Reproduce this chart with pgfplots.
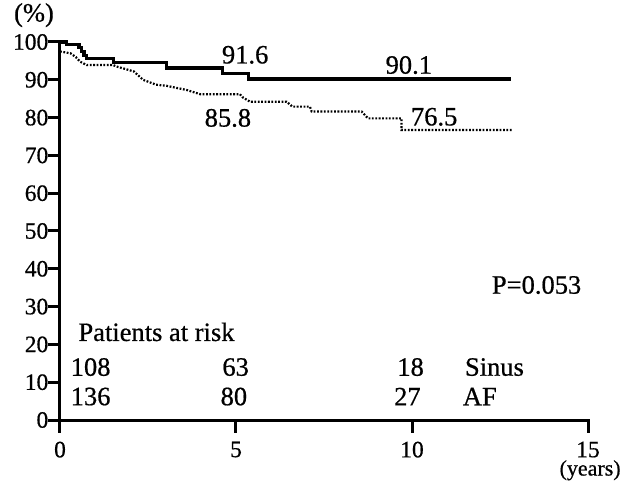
\documentclass[border=0pt]{standalone}
\usepackage{pgfplots}
\pgfplotsset{compat=1.18}
\usepackage{fontspec}
\setmainfont[FakeBold=0.6]{Liberation Serif}
\begin{document}
\begin{tikzpicture}
\begin{axis}[
  name=ax,
  scale only axis,
  width=528pt, height=378pt,
  xmin=0, xmax=15, ymin=0, ymax=100,
  axis lines=left,
  axis line style={-, line width=3pt, line cap=rect},
  xtick={0,5,10,15}, ytick={0,10,...,100},
  tick align=outside,
  major tick length=12.5pt,
  tick style={line width=3pt, black},
  /pgf/number format/assume math mode=true,
  tick label style={font=\fontsize{23.5}{28}\selectfont},
  yticklabel style={inner sep=0pt, xshift=1pt},
  xticklabel style={inner sep=0pt, yshift=-9pt},
  clip=false,
]
\addplot[black, line width=3.2pt, line join=miter] coordinates {
(0,100) (0.19,100) (0.19,99.4) (0.54,99.4) (0.54,98.5) (0.62,98.5) (0.62,97.5)
(0.68,97.5) (0.68,96.5) (0.76,96.5) (0.76,95.6) (1.51,95.6) (1.51,94.5)
(3.03,94.5) (3.03,93.1) (4.61,93.1) (4.61,91.7) (5.35,91.7) (5.35,90.2) (12.8,90.2)
};
\addplot[black, line width=2.2pt, dash pattern=on 1.8pt off 1.6pt] coordinates {
(0,97.5) (0.3,97.0) (0.45,96.0) (0.57,94.8) (0.76,93.9) (1.51,93.9) (1.61,93.5)
(1.8,93.0) (2.1,92.2) (2.36,90.0) (2.73,88.7) (3.03,88.4) (3.6,87.3) (3.98,86.2)
(5.11,86.2) (5.2,85.3) (5.4,84.2) (6.44,84.2) (6.6,82.9) (7.1,82.9) (7.15,81.6)
(8.57,81.6) (8.75,79.8) (9.7,79.8) (9.7,76.7) (12.85,76.7)
};
\begin{scope}[every node/.style={font=\fontsize{26.5}{31}\selectfont, inner sep=0pt}]
\node at (axis cs:-0.74,107.1) {(\%)};
\node at (axis cs:5.26,96.6) {91.6};
\node at (axis cs:9.91,93.9) {90.1};
\node at (axis cs:4.77,79.9) {85.8};
\node at (axis cs:10.63,80.2) {76.5};
\node at (axis cs:13.54,35.7) {P=0.053};
\node[anchor=west] at (axis cs:0.52,23.3) {Patients at risk};
\node at (axis cs:0.87,14.0) {108};
\node at (axis cs:4.99,14.0) {63};
\node at (axis cs:9.96,14.0) {18};
\node[anchor=west] at (axis cs:11.5,14.0) {Sinus};
\node at (axis cs:0.87,6.2) {136};
\node at (axis cs:4.94,6.2) {80};
\node at (axis cs:9.87,6.2) {27};
\node[anchor=west] at (axis cs:11.44,6.2) {AF};
\end{scope}
\node[font=\fontsize{22}{26}\selectfont, inner sep=0pt] at (axis cs:15.06,-13.3) {(years)};
\end{axis}
\pgfresetboundingbox
\path[use as bounding box] ([shift={(-60pt,-62pt)}]ax.south west) rectangle ([shift={(567pt,420pt)}]ax.south west);
\end{tikzpicture}
\end{document}
